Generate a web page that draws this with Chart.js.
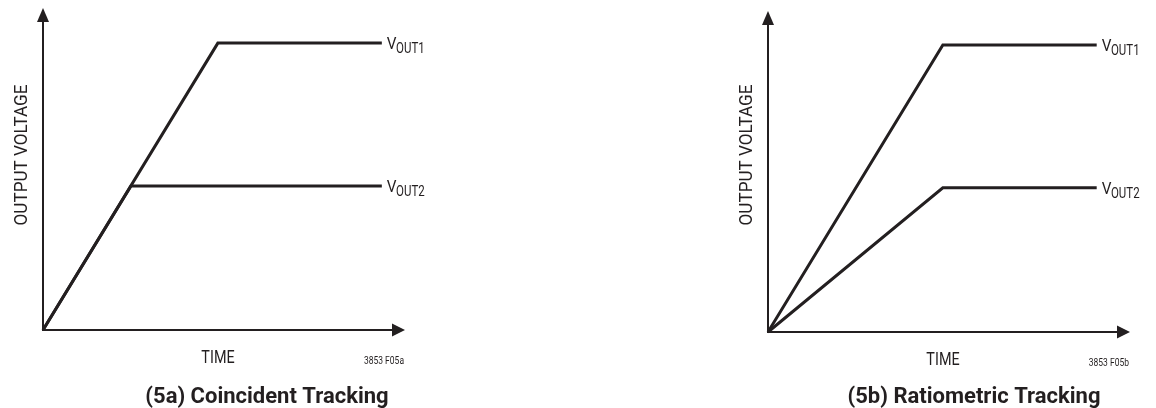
<!DOCTYPE html>
<html>
<head>
<meta charset="utf-8">
<script src="https://cdn.jsdelivr.net/npm/chart.js@4"></script>
<style>
  body { margin: 0; background: #fff; }
  .panel { position: absolute; top: 0; width: 578px; height: 408px; }
  #panelA { left: 0; }
  #panelB { left: 578px; }
</style>
</head>
<body>
<div class="panel" id="panelA"><canvas id="chartA" width="578" height="408"></canvas></div>
<div class="panel" id="panelB"><canvas id="chartB" width="578" height="408"></canvas></div>
<script>
// Data (time and voltage in arbitrary units, axes run 0..10)
const seriesNames = ["1", "2"];

const timeA1 = [0, 4.83, 9.36];
const voutA1 = [0, 8.91, 8.91];
const timeA2 = [0, 2.43, 9.36];
const voutA2 = [0, 4.47, 4.47];

const timeB1 = [0, 4.83, 9.08];
const voutB1 = [0, 8.94, 8.94];
const timeB2 = [0, 4.83, 9.08];
const voutB2 = [0, 4.49, 4.49];

const yTitle = "OUTPUT VOLTAGE";
const xTitle = "TIME";
const figCodes = ["3853 F05a", "3853 F05b"];
const captions = ["(5a) Coincident Tracking", "(5b) Ratiometric Tracking"];

const ink = "#231f20";
const face = "Roboto, 'DejaVu Sans', sans-serif";

function points(xs, ys) {
    return xs.map((x, i) => ({ x: x, y: ys[i] }));
}

// draws text squeezed horizontally (fake condensed face), returns drawn width
function narrowText(ctx, text, x, y, font, align, squeeze) {
    ctx.save();
    ctx.font = font;
    ctx.textAlign = align;
    ctx.translate(x, y);
    ctx.scale(squeeze, 1);
    ctx.fillText(text, 0, 0);
    const w = ctx.measureText(text).width * squeeze;
    ctx.restore();
    return w;
}

// Axes with arrowheads, labels and caption
const sketchPlugin = {
    id: "sketch",
    afterDatasetsDraw(chart, args, opts) {
        const ctx = chart.ctx;
        const xs = chart.scales.x;
        const ys = chart.scales.y;
        const ox = xs.getPixelForValue(0);
        const oy = ys.getPixelForValue(0);
        const xEnd = xs.getPixelForValue(10);
        const yEnd = ys.getPixelForValue(10);

        ctx.save();
        ctx.strokeStyle = ink;
        ctx.fillStyle = ink;
        ctx.lineWidth = 2;
        ctx.beginPath();
        ctx.moveTo(ox, yEnd + 10);
        ctx.lineTo(ox, oy);
        ctx.lineTo(xEnd - 10, oy);
        ctx.stroke();

        // arrowheads
        ctx.beginPath();
        ctx.moveTo(ox, yEnd);
        ctx.lineTo(ox - 6, yEnd + 14);
        ctx.lineTo(ox + 6, yEnd + 14);
        ctx.closePath();
        ctx.fill();
        ctx.beginPath();
        ctx.moveTo(xEnd, oy);
        ctx.lineTo(xEnd - 13, oy - 6.5);
        ctx.lineTo(xEnd - 13, oy + 6.5);
        ctx.closePath();
        ctx.fill();

        ctx.textBaseline = "alphabetic";

        // series end labels: V with OUTn subscript
        chart.data.datasets.forEach((ds, i) => {
            const meta = chart.getDatasetMeta(i);
            const last = meta.data[meta.data.length - 1];
            const lx = last.x + 5;
            const ly = last.y;
            const w = narrowText(ctx, "V", lx, ly + 6, "17px " + face, "left", 0.9);
            narrowText(ctx, "OUT" + seriesNames[i], lx + w - 0.5, ly + 10, "14px " + face, "left", 0.82);
        });

        // axis titles
        narrowText(ctx, xTitle, ox + 175, oy + 33, "18px " + face, "center", 0.8);
        ctx.save();
        ctx.translate(ox - 16, opts.yTitleY);
        ctx.rotate(-Math.PI / 2);
        narrowText(ctx, yTitle, 0, 0, "19px " + face, "center", 0.9);
        ctx.restore();

        // figure code
        narrowText(ctx, opts.code, xEnd - 1, oy + 34, "10px " + face, "right", 0.85);

        // caption
        narrowText(ctx, opts.caption, opts.captionX, 403, "bold 22px " + face, "center", 1);
        ctx.restore();
    }
};

function makeChart(id, sets, pad, extra) {
    return new Chart(document.getElementById(id), {
        type: "scatter",
        data: {
            datasets: sets.map(s => ({
                data: s,
                showLine: true,
                borderColor: ink,
                borderWidth: 3,
                borderJoinStyle: "miter",
                pointRadius: 0,
                tension: 0,
                clip: false
            }))
        },
        options: {
            responsive: false,
            animation: false,
            devicePixelRatio: 1,
            layout: { padding: pad },
            scales: {
                x: { type: "linear", min: 0, max: 10, display: false },
                y: { type: "linear", min: 0, max: 10, display: false }
            },
            plugins: {
                legend: { display: false },
                tooltip: { enabled: false },
                sketch: extra
            }
        },
        plugins: [sketchPlugin]
    });
}

makeChart("chartA",
    [points(timeA1, voutA1), points(timeA2, voutA2)],
    { left: 43, top: 8, right: 578 - 405, bottom: 408 - 330 },
    { code: figCodes[0], caption: captions[0], captionX: 267, yTitleY: 155 });

makeChart("chartB",
    [points(timeB1, voutB1), points(timeB2, voutB2)],
    { left: 190, top: 11, right: 578 - 552, bottom: 408 - 332 },
    { code: figCodes[1], caption: captions[1], captionX: 974 - 578, yTitleY: 155 });
</script>
</body>
</html>
